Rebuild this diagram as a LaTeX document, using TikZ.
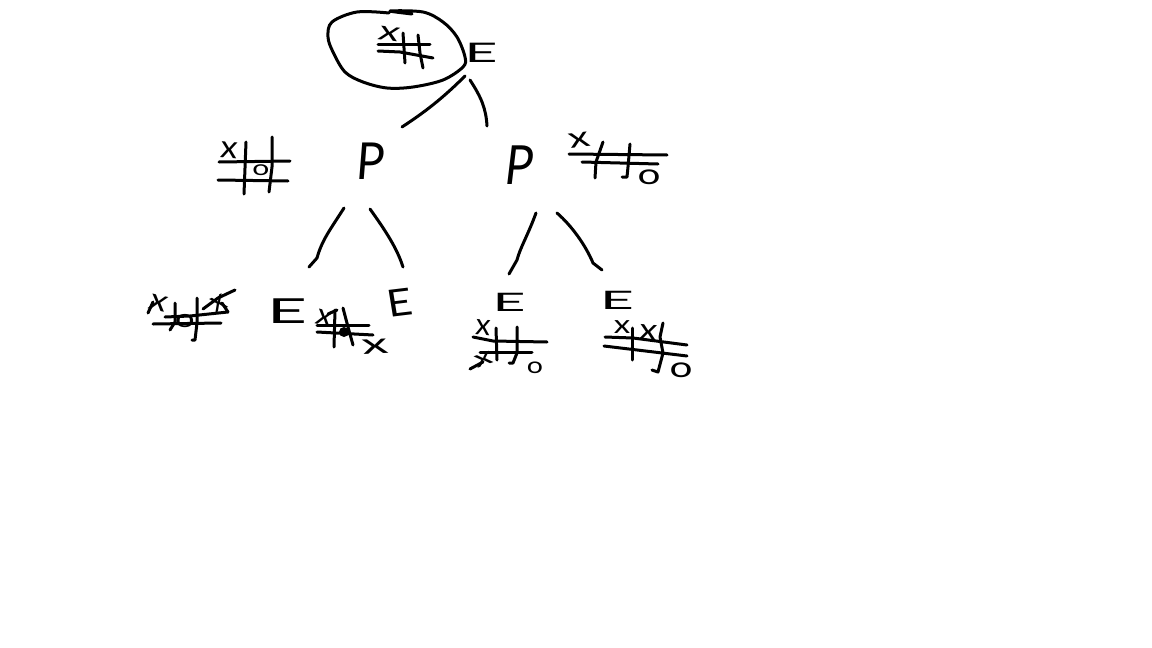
\documentclass[tikz,border=0pt]{standalone}
\usepackage{fontspec}
\newfontfamily\skreg{Lato}
\tikzset{
  sk/.style={line width=3pt,line cap=round,line join=round,black},
  letter/.style={inner sep=0pt,outer sep=0pt,font=\skreg\fontsize{30}{30}\selectfont},
  xo/.style={inner sep=0pt,outer sep=0pt,font=\skreg\fontsize{30}{30}\selectfont}
}
\begin{document}
\begin{tikzpicture}[x=1pt,y=-1pt]
\useasboundingbox (0,0) rectangle (1152,648);
\fill[white] (0,0) rectangle (1152,648);
% ---------- root
\draw[sk] plot[smooth,tension=.55] coordinates {(389,13) (357,12) (332,22) (328,37) (333,52) (345,72) (363,82) (387,88) (413,87) (443,80) (463,67) (465,57) (457,37) (443,22) (423,12) (390,11) (412,14)};
\node[xo,xscale=1.4,yscale=.9,rotate=-10] (rx) at (389,34) {x};
\draw[sk] (378,44) -- (430,44);
\draw[sk] (378,51) -- (400,52) -- (433,58);
\draw[sk] (403,33) -- (405,63);
\draw[sk] (418,35) -- (420,53) -- (423,68);
\node[letter,xscale=1.9,yscale=.9] (rootE) at (481,53) {E};
% ---------- second level
\node[xo,xscale=1.15,yscale=1.05,rotate=-5] (ax) at (229,150) {x};
\draw[sk] (219,162) -- (290,161);
\draw[sk] (218,180) -- (288,181);
\draw[sk] (246,142) -- (244,194);
\draw[sk] (272,137) -- (272,167) -- (269,192);
\node[xo,xscale=1,yscale=.7] (ao) at (261,170) {o};
\node[letter,xslant=.08,xscale=1.55,yscale=1.7] (pa) at (371,161) {P};
\node[letter,xslant=.12,xscale=1.55,yscale=1.8] (pb) at (520,165) {P};
\node[xo,xscale=1.4,yscale=.95,rotate=10] (bx) at (579,140) {x};
\draw[sk] (569,154) -- (667,155);
\draw[sk] (582,162) -- (658,164);
\draw[sk] (603,142) -- (596,162) -- (595,178);
\draw[sk] (630,144) -- (628,167) -- (627,177) -- (622,177);
\node[xo,xscale=1.35,yscale=.95] (bo) at (649,177) {o};
% connectors, root to P
\coordinate (rl) at (465,76);
\coordinate (rr) at (470,80);
\coordinate (pat) at (402,127);
\coordinate (pbt) at (487,126);
\draw[sk] (rl) .. controls (443,98) and (425,112) .. (pat);
\draw[sk] (rr) .. controls (481,97) and (486,108) .. (pbt);
% connectors, P to E
\coordinate (pal) at (344,208);
\coordinate (par) at (370,209);
\coordinate (pbl) at (536,213);
\coordinate (pbr) at (557,213);
\coordinate (e1t) at (309,267);
\coordinate (e2t) at (403,267);
\coordinate (e3t) at (509,274);
\coordinate (e4t) at (602,270);
\draw[sk] (pal) .. controls (330,230) and (322,240) .. (317,258) -- (e1t);
\draw[sk] (par) .. controls (385,230) and (397,248) .. (e2t);
\draw[sk] (pbl) .. controls (528,235) and (520,248) .. (517,260) -- (e3t);
\draw[sk] (pbr) .. controls (572,226) and (586,246) .. (593,263) -- (e4t);
% ---------- leaf 1
\node[xo,xscale=1.2,rotate=-15] (c1x) at (159,303) {x};
\draw[sk] (148,313) -- (153,302);
\draw[sk] (153,324) -- (221,323);
\draw[sk] (165,317) -- (190,316) -- (228,312);
\draw[sk] (175,303) -- (175,322) -- (170,330);
\draw[sk] (197,298) -- (197,323) -- (195,340) -- (192,340);
\node[xo,xscale=1.15,yscale=.85] (c1o) at (185,321) {o};
\node[xo,rotate=25] (c1y) at (219,303) {x};
\draw[sk] (203,309) -- (218,298) -- (235,290);
\draw[sk] (222,303) -- (228,312);
\node[letter,xscale=2.3,yscale=1.15] (e1) at (287,311) {E};
% ---------- leaf 2
\node[xo,xscale=1.1,rotate=-15] (c2x) at (325,318) {x};
\draw[sk] (328,314) -- (337,310);
\draw[sk] (317,325) -- (369,325);
\draw[sk] (317,332) -- (373,335);
\draw[sk] (335,310) -- (334,347);
\draw[sk] (343,308) -- (348,327) -- (353,345);
\fill (344,332) circle (5);
\node[xo,xscale=1.75,yscale=.95,rotate=5] (c2y) at (375,347) {x};
\node[letter,xscale=1.45,yscale=1.25,rotate=8] (e2) at (400,303) {E};
% ---------- leaf 3
\node[letter,xscale=1.9,yscale=.85] (e3) at (509,302) {E};
\node[xo,rotate=-5] (c3x) at (483,328) {x};
\draw[sk] (473,337) -- (493,341) -- (547,342);
\draw[sk] (480,352) -- (532,352);
\draw[sk] (496,328) -- (497,360);
\draw[sk] (517,327) -- (517,353) -- (513,363) -- (509,363);
\node[xo,rotate=20,xscale=1.2,yscale=.8] (c3y) at (484,360) {x};
\draw[sk] (470,369) -- (483,362);
\node[xo,xscale=.95,yscale=.75] (c3o) at (535,368) {o};
% ---------- leaf 4
\node[letter,xscale=1.95,yscale=.85] (e4) at (617,300) {E};
\node[xo,xscale=1.1,yscale=.85] (c4x) at (622,327) {x};
\draw[sk] (605,337) -- (633,338) -- (687,345);
\draw[sk] (604,346) -- (687,356);
\draw[sk] (632,328) -- (632,360);
\draw[sk] (663,323) -- (660,337) -- (663,353) -- (658,372) -- (652,370);
\node[xo,xscale=1.2,rotate=-5] (c4y) at (648,333) {x};
\node[xo,xscale=1.35,yscale=.95] (c4o) at (681,370) {o};
\end{tikzpicture}
\end{document}
